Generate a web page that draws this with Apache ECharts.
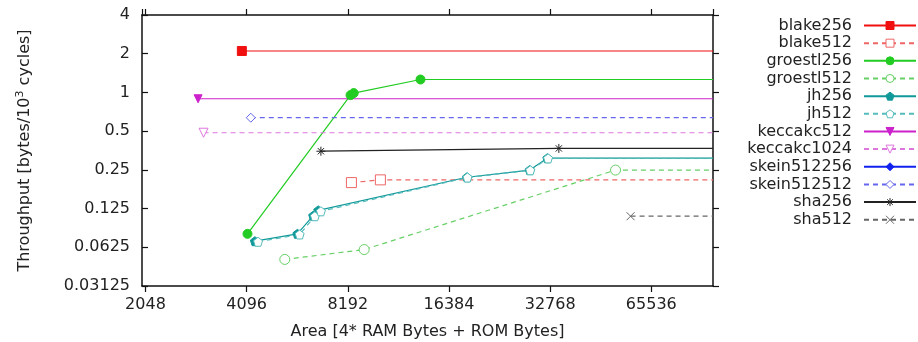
<!DOCTYPE html>
<html>
<head>
<meta charset="utf-8">
<script src="https://cdn.jsdelivr.net/npm/echarts@6/dist/echarts.min.js"></script>
<style>
  html, body { margin: 0; padding: 0; background: #fff; }
  #chart { width: 918px; height: 342px; }
</style>
</head>
<body>
<div id="chart"></div>
<script>
// [area, throughput]
const blake256 = [[3964, 2.10]];
const blake512 = [[8398, 0.199], [10240, 0.209]];
const groestl256 = [[4120, 0.0795], [8348, 0.953], [8530, 0.988], [13480, 1.26]];
const groestl512 = [[5320, 0.0503], [9165, 0.060], [51290, 0.249]];
const jh256 = [[4334, 0.0697], [5800, 0.0795], [6462, 0.110], [6689, 0.121], [18535, 0.219], [28470, 0.249], [32140, 0.308]];
const jh512 = [[4429, 0.069], [5890, 0.0786], [6538, 0.109], [6813, 0.119], [18600, 0.218], [28600, 0.248], [32300, 0.307]];
const keccakc512 = [[2937, 0.893]];
const keccakc1024 = [[3049, 0.486]];
const skein512256 = [];
const skein512512 = [[4214, 0.636]];
const sha256 = [[6813, 0.349], [34780, 0.367]];
const sha512 = [[56850, 0.109]];

const xMin = 2000, xMax = 100000;
const yMin = 0.03125, yMax = 4;

const FONT = 'DejaVu Sans';
const pentagon = 'path://M0,-10L9.51,-3.09L5.88,8.09L-5.88,8.09L-9.51,-3.09Z';
const star = 'path://M0,-10L0,10M-10,0L10,0M-7,-7L7,7M-7,7L7,-7';
const cross = 'path://M-10,-10L10,10M-10,10L10,-10';

// gnuplot keeps the last value going to the right border
function withTail(pts) {
    let out = pts.map(p => ({ value: p }));
    if (pts.length) {
        out.push({ value: [xMax, pts[pts.length - 1][1]], symbol: 'none' });
    }
    return out;
}

function makeSeries(name, pts, color, dashed, symbol, size, open, rotate) {
    return {
        name: name,
        type: 'line',
        data: withTail(pts),
        symbol: symbol,
        symbolSize: size,
        symbolRotate: rotate || 0,
        showSymbol: true,
        showAllSymbol: true,
        lineStyle: { color: color, width: 1.2, type: dashed ? [5, 4] : 'solid' },
        itemStyle: {
            color: open ? '#ffffff' : color,
            borderColor: color,
            borderWidth: 1
        },
        emphasis: { disabled: true },
        z: 3
    };
}

let series = [
    makeSeries('blake256', blake256, '#f01010', false, 'rect', 9, false),
    makeSeries('blake512', blake512, '#ee6666', true, 'rect', 10, true),
    makeSeries('groestl256', groestl256, '#22cc22', false, 'circle', 9, false),
    makeSeries('groestl512', groestl512, '#66d066', true, 'circle', 10, true),
    makeSeries('jh256', jh256, '#119999', false, pentagon, 9, false),
    makeSeries('jh512', jh512, '#55bbbb', true, pentagon, 9, true),
    makeSeries('keccakc512', keccakc512, '#cc22cc', false, 'triangle', 8, false, 180),
    makeSeries('keccakc1024', keccakc1024, '#dd77dd', true, 'triangle', 9, true, 180),
    makeSeries('skein512256', skein512256, '#1122ee', false, 'diamond', 8, false),
    makeSeries('skein512512', skein512512, '#6666ee', true, 'diamond', 9, true),
    makeSeries('sha256', sha256, '#222222', false, star, 9, false),
    makeSeries('sha512', sha512, '#666666', true, cross, 8, false)
];

const axisColor = '#111';
function xAxis(pos) {
    return {
        type: 'log',
        logBase: 2,
        min: xMin,
        max: xMax,
        position: pos,
        name: pos === 'bottom' ? 'Area [4* RAM Bytes + ROM Bytes]' : '',
        nameLocation: 'middle',
        nameGap: 38,
        nameTextStyle: { fontFamily: FONT, fontSize: 16, color: '#222' },
        axisLine: { show: true, lineStyle: { color: axisColor, width: 1.5 } },
        // negative length: ticks point into the plot
        axisTick: { show: true, inside: true, length: -6, lineStyle: { color: axisColor, width: 1.2 } },
        axisLabel: {
            show: pos === 'bottom',
            margin: 11,
            fontFamily: FONT,
            fontSize: 16,
            color: '#222',
            showMinLabel: false,
            showMaxLabel: false,
            formatter: v => String(Math.round(v))
        },
        minorTick: { show: false },
        splitLine: { show: false }
    };
}
function yAxis(pos) {
    return {
        type: 'log',
        logBase: 2,
        min: yMin,
        max: yMax,
        position: pos,
        name: pos === 'left' ? '{a|Throughput [bytes/10}{s|3}{a| cycles]}' : '',
        nameLocation: 'middle',
        nameGap: 108,
        nameTextStyle: {
            rich: {
                a: { fontFamily: FONT, fontSize: 16, color: '#222' },
                s: { fontFamily: FONT, fontSize: 11, color: '#222', padding: [0, 0, 8, 0] }
            }
        },
        axisLine: { show: true, lineStyle: { color: axisColor, width: 1.5 } },
        axisTick: { show: true, inside: true, length: pos === 'left' ? 6 : -6, lineStyle: { color: axisColor, width: 1.2 } },
        axisLabel: {
            show: pos === 'left',
            margin: 12,
            fontFamily: FONT,
            fontSize: 16,
            color: '#222',
            formatter: v => String(+v.toPrecision(6))
        },
        splitLine: { show: false }
    };
}

let option = {
    animation: false,
    backgroundColor: '#ffffff',
    grid: { left: 142, right: 205, top: 15, bottom: 56, outerBoundsMode: 'none' },
    legend: {
        orient: 'vertical',
        align: 'right',
        right: 1,
        top: 17.5,
        padding: 0,
        itemWidth: 52,
        itemHeight: 10,
        itemGap: 1.66,
        selectedMode: false,
        itemStyle: { borderWidth: 1 },
        textStyle: { fontFamily: FONT, fontSize: 16, color: '#222', padding: [0, 7, 0, 0] },
        data: series.map(s => s.name)
    },
    xAxis: [xAxis('bottom'), xAxis('top')],
    yAxis: [yAxis('left'), yAxis('right')],
    series: series
};

let myChart = echarts.init(document.getElementById('chart'), null, { renderer: 'canvas' });
myChart.setOption(option);
</script>
</body>
</html>
